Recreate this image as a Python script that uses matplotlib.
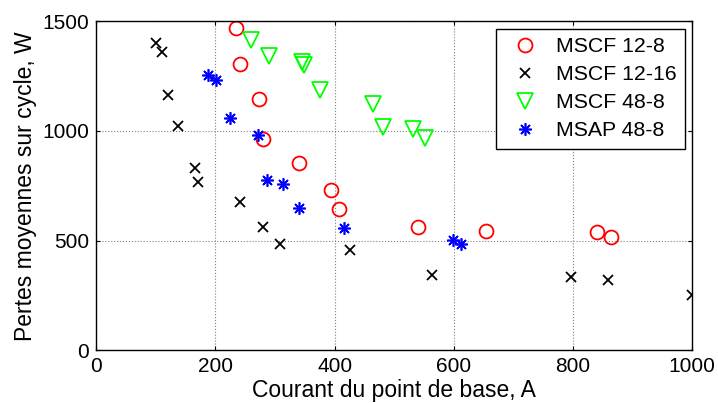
"""Pertes moyennes sur cycle vs courant du point de base"""

import matplotlib.pyplot as plt

plt.rcParams["font.family"] = ["Liberation Sans", "DejaVu Sans"]

## Data
mscf_12_8_x = [234, 241, 274, 280, 340, 394, 407, 540, 654, 841, 863]
mscf_12_8_y = [1469, 1306, 1145, 965, 852, 729, 645, 561, 546, 541, 515]

mscf_12_16_x = [100, 110, 121, 138, 166, 170, 242, 280, 309, 426, 564, 796, 859, 1000]
mscf_12_16_y = [1400, 1359, 1164, 1023, 829, 767, 676, 564, 485, 457, 343, 336, 322, 251]

mscf_48_8_x = [260, 290, 346, 348, 375, 465, 481, 531, 552]
mscf_48_8_y = [1417, 1341, 1315, 1300, 1188, 1122, 1020, 1008, 966]

msap_48_8_x = [187, 201, 225, 271, 287, 313, 341, 416, 599, 612]
msap_48_8_y = [1255, 1234, 1061, 982, 778, 757, 650, 558, 503, 485]

x_ticks = [0, 200, 400, 600, 800, 1000]
y_ticks = [0, 500, 1000, 1500]

if __name__ == "__main__":
    fig = plt.figure(figsize=(7.18, 4.03), dpi=100)
    ax = fig.add_axes([0.134, 0.131, 0.830, 0.816])

    ax.plot(mscf_12_8_x, mscf_12_8_y, "o", color="red", mfc="none",
            ms=10, mew=1.3, label="MSCF 12-8")
    ax.plot(mscf_12_16_x, mscf_12_16_y, "x", color="black",
            ms=6.5, mew=1.3, label="MSCF 12-16")
    ax.plot(mscf_48_8_x, mscf_48_8_y, "v", color="#00ff00", mfc="none",
            ms=11.5, mew=1.3, label="MSCF 48-8")
    ax.plot(msap_48_8_x, msap_48_8_y, marker=(8, 2, 0), ls="none", color="blue",
            ms=9, mew=1.2, label="MSAP 48-8")

    ax.set_xlim(0, 1000)
    ax.set_ylim(0, 1500)
    ax.set_xticks(x_ticks)
    ax.set_yticks(y_ticks)
    ax.tick_params(direction="in", length=3, labelsize=15, top=True, right=True)
    ax.tick_params(axis="x", pad=5)
    ax.tick_params(axis="y", pad=5)
    ax.grid(True, ls=":", color="gray", lw=0.8)
    for spine in ax.spines.values():
        spine.set_linewidth(1.0)

    ax.set_xlabel("Courant du point de base, A", fontsize=16.5, labelpad=2)
    ax.set_ylabel("Pertes moyennes sur cycle, W", fontsize=16.5, labelpad=4)

    leg = ax.legend(loc="upper right", fontsize=15.3, fancybox=False,
                    framealpha=1, edgecolor="black", borderaxespad=0.35,
                    handletextpad=0.5, labelspacing=0.42, borderpad=0.4,
                    handlelength=1.9)
    leg.get_frame().set_linewidth(1.0)

    fig.savefig("out.png", dpi=100)
